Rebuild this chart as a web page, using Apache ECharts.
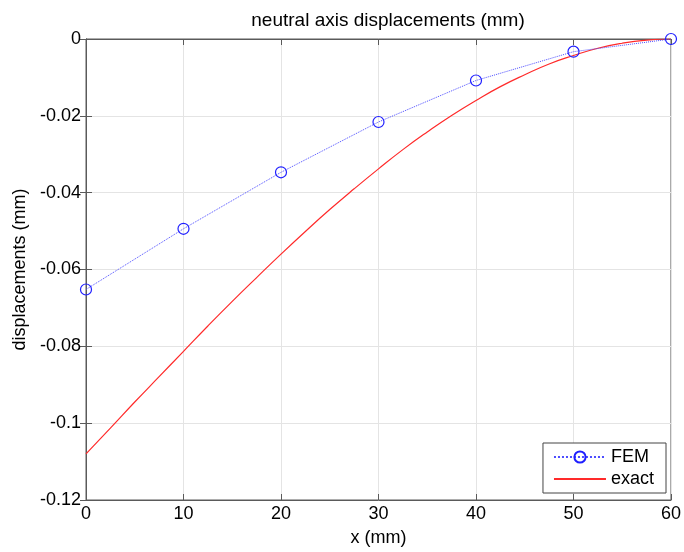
<!DOCTYPE html>
<html>
<head>
<meta charset="utf-8">
<script src="https://cdn.jsdelivr.net/npm/echarts@6/dist/echarts.min.js"></script>
<style>
  html, body { margin: 0; padding: 0; background: #fff; }
  #chart { width: 684px; height: 552px; }
</style>
</head>
<body>
<div id="chart"></div>
<script>
// FEM nodal values
var femX = [0, 10, 20, 30, 40, 50, 60];
var femY = [-0.0652, -0.0494, -0.0347, -0.0216, -0.0108, -0.0033, 0];

// exact solution
var exactX = [0, 2.5, 5, 7.5, 10, 12.5, 15, 17.5, 20, 22.5, 25, 27.5, 30,
              32.5, 35, 37.5, 40, 42.5, 45, 47.5, 50, 52.5, 55, 57.5, 60];
var exactY = [-0.1080, -0.1013, -0.0945, -0.0879, -0.0813, -0.0747, -0.0683, -0.0621, -0.0560,
              -0.0501, -0.0444, -0.0390, -0.0338, -0.0288, -0.0242, -0.0199, -0.0160,
              -0.0124, -0.0093, -0.0065, -0.0043, -0.0024, -0.0011, -0.0003, 0];

var xTicks = [0, 10, 20, 30, 40, 50, 60];
var yTicks = [0, -0.02, -0.04, -0.06, -0.08, -0.1, -0.12];

var chart = echarts.init(document.getElementById('chart'));
var FONT = 'Liberation Sans, Arial, sans-serif';
var AXIS = '#5a5a5a';

var femData = femX.map(function (x, i) { return [x, femY[i]]; });
var exactData = exactX.map(function (x, i) { return [x, exactY[i]]; });

var option = {
  animation: false,
  textStyle: { fontFamily: FONT },
  title: {
    text: 'neutral axis displacements (mm)',
    left: 383, top: 6, textAlign: 'center',
    textStyle: { fontSize: 19, fontWeight: 'normal', color: '#000', fontFamily: FONT }
  },
  grid: {
    left: 86, right: 11, top: 39, bottom: 50,
    show: true, borderColor: AXIS, borderWidth: 1, backgroundColor: '#fff'
  },
  legend: {
    right: 18, bottom: 59,
    orient: 'vertical',
    backgroundColor: '#fff',
    borderColor: '#444', borderWidth: 1, borderRadius: 0,
    padding: [5, 12, 5, 10],
    itemGap: 4, itemWidth: 52, itemHeight: 14,
    textStyle: { fontSize: 18, color: '#000', fontFamily: FONT },
    data: [
      { name: 'FEM' },
      { name: 'exact', itemStyle: { color: 'rgba(0,0,0,0)', borderWidth: 0 } }
    ]
  },
  xAxis: [{
    type: 'value', min: 0, max: 60, interval: 10,
    name: 'x (mm)', nameLocation: 'middle', nameGap: 29,
    nameTextStyle: { fontSize: 18, color: '#000' },
    axisLine: { show: true, onZero: false, lineStyle: { color: AXIS } },
    axisTick: { show: true, inside: true, length: 6, lineStyle: { color: AXIS } },
    axisLabel: { fontSize: 18, color: '#000', margin: 5 },
    splitLine: { show: true, lineStyle: { color: '#e4e4e4' } }
  }, {
    type: 'value', min: 0, max: 60, interval: 10, position: 'top',
    axisLine: { show: true, lineStyle: { color: AXIS } },
    axisTick: { show: true, inside: true, length: 6, lineStyle: { color: AXIS } },
    axisLabel: { show: false }, splitLine: { show: false }
  }],
  yAxis: [{
    type: 'value', min: -0.12, max: 0, interval: 0.02,
    name: 'displacements (mm)', nameLocation: 'middle', nameGap: 57,
    nameTextStyle: { fontSize: 18, color: '#000' },
    axisLine: { show: true, onZero: false, lineStyle: { color: AXIS } },
    axisTick: { show: true, inside: true, length: 6, lineStyle: { color: AXIS } },
    axisLabel: {
      fontSize: 18, color: '#000', margin: 5,
      formatter: function (v) { var r = +v.toFixed(2); return r === 0 ? '0' : String(r); }
    },
    splitLine: { show: true, lineStyle: { color: '#e4e4e4' } }
  }, {
    type: 'value', min: -0.12, max: 0, interval: 0.02, position: 'right',
    axisLine: { show: true, lineStyle: { color: AXIS } },
    axisTick: { show: true, inside: true, length: 6, lineStyle: { color: AXIS } },
    axisLabel: { show: false }, splitLine: { show: false }
  }],
  series: [{
    name: 'FEM', type: 'line', data: femData,
    symbol: 'circle', symbolSize: 11, showAllSymbol: true,
    lineStyle: { color: '#4d4dff', width: 1, type: 'dotted' },
    itemStyle: { color: 'rgba(0,0,0,0)', borderColor: '#1f1fff', borderWidth: 1.2 },
    z: 3
  }, {
    name: 'exact', type: 'line', data: exactData, smooth: true,
    symbol: 'none',
    lineStyle: { color: '#ff2a2a', width: 1.2 },
    itemStyle: { color: '#ff2a2a' },
    z: 2
  }]
};
chart.setOption(option);
</script>
</body>
</html>
